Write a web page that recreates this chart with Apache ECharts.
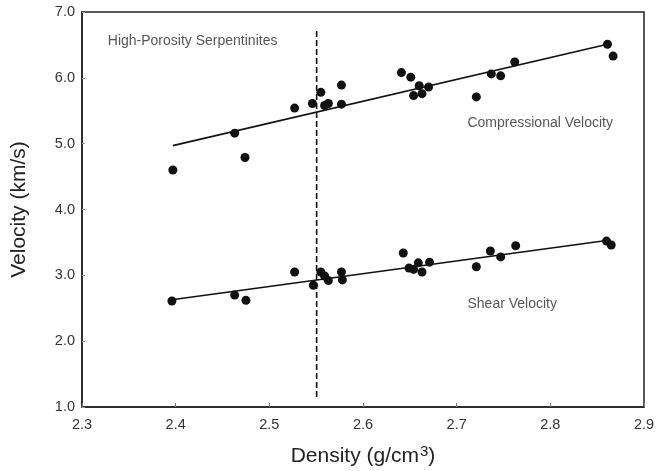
<!DOCTYPE html>
<html lang="en">
<head>
    <meta charset="UTF-8">
    <title>Velocity vs Density</title>
    <script src="https://cdn.jsdelivr.net/npm/echarts@6/dist/echarts.min.js"></script>
</head>
<body style="margin:0;background:#fff">
<div id="main" style="width:666px;height:471px"></div>
<script>
// compressional velocity samples [density, km/s]
var compData = [
    [2.397, 4.60], [2.463, 5.16], [2.474, 4.79], [2.527, 5.54], [2.546, 5.61],
    [2.555, 5.78], [2.559, 5.58], [2.563, 5.61], [2.577, 5.89], [2.577, 5.60],
    [2.641, 6.08], [2.651, 6.01], [2.654, 5.73], [2.660, 5.88], [2.663, 5.76],
    [2.670, 5.86], [2.721, 5.71], [2.737, 6.06], [2.747, 6.03], [2.762, 6.24],
    [2.861, 6.51], [2.867, 6.33]
];
// shear velocity samples
var shearData = [
    [2.396, 2.61], [2.463, 2.70], [2.475, 2.62], [2.527, 3.05], [2.547, 2.85],
    [2.555, 3.05], [2.559, 2.99], [2.563, 2.92], [2.577, 3.05], [2.578, 2.93],
    [2.643, 3.34], [2.649, 3.11], [2.654, 3.09], [2.659, 3.19], [2.663, 3.05],
    [2.671, 3.20], [2.721, 3.13], [2.736, 3.37], [2.747, 3.28], [2.763, 3.45],
    [2.860, 3.52], [2.865, 3.46]
];
// regression lines (end points)
var compFit = [[2.397, 4.97], [2.861, 6.51]];
var shearFit = [[2.396, 2.63], [2.860, 3.53]];
// high porosity cutoff
var cutoffLine = [[2.5505, 6.71], [2.5505, 1.13]];
// text notes
var notes = [
    {value: [2.327, 6.56], text: 'High-Porosity Serpentinites'},
    {value: [2.711, 5.31], text: 'Compressional Velocity'},
    {value: [2.711, 2.56], text: 'Shear Velocity'}
];

var chart = echarts.init(document.getElementById('main'));
var font = 'Liberation Sans, Arial, sans-serif';

var option = {
    animation: false,
    grid: {
        left: 82, right: 22, top: 12, bottom: 64,
        outerBoundsMode: 'none',
        show: true, borderColor: '#222', borderWidth: 1.5, backgroundColor: 'transparent'
    },
    xAxis: {
        type: 'value', min: 2.3, max: 2.9, interval: 0.1,
        name: 'Density (g/cm{sup|3})',
        nameLocation: 'middle', nameGap: 37,
        nameTextStyle: {
            fontFamily: font, fontSize: 21, color: '#222',
            rich: {sup: {fontFamily: font, fontSize: 15, color: '#222', padding: [0, 0, 10, 1]}}
        },
        axisLine: {show: true, onZero: false, lineStyle: {color: '#222', width: 1.5}},
        axisTick: {show: true, inside: true, length: 4, lineStyle: {color: '#777'}},
        axisLabel: {
            fontFamily: font, fontSize: 14.5, color: '#333', margin: 10,
            formatter: function (v) { return v.toFixed(1); }
        },
        splitLine: {show: false}
    },
    yAxis: {
        type: 'value', min: 1, max: 7, interval: 1,
        name: 'Velocity (km/s)',
        nameLocation: 'middle', nameGap: 52,
        nameTextStyle: {fontFamily: font, fontSize: 21, color: '#222'},
        axisLine: {show: true, onZero: false, lineStyle: {color: '#222', width: 1.5}},
        axisTick: {show: true, inside: true, length: 3, lineStyle: {color: '#999'}},
        axisLabel: {
            fontFamily: font, fontSize: 14.5, color: '#333', margin: 7,
            formatter: function (v) { return v.toFixed(1); }
        },
        splitLine: {show: false}
    },
    series: [
        {
            type: 'line', data: compFit, symbol: 'none',
            lineStyle: {color: '#111', width: 1.6}, z: 2
        },
        {
            type: 'line', data: shearFit, symbol: 'none',
            lineStyle: {color: '#111', width: 1.6}, z: 2
        },
        {
            type: 'line', data: cutoffLine, symbol: 'none',
            lineStyle: {color: '#111', width: 1.6, type: [6, 3]}, z: 2
        },
        {
            type: 'scatter', data: compData, symbolSize: 9,
            itemStyle: {color: '#111', opacity: 1}, z: 3
        },
        {
            type: 'scatter', data: shearData, symbolSize: 9,
            itemStyle: {color: '#111', opacity: 1}, z: 3
        },
        {
            type: 'scatter', symbolSize: 1, itemStyle: {color: 'transparent'},
            data: notes.map(function (n) { return {value: n.value, name: n.text}; }),
            label: {
                show: true, position: 'right', distance: 0,
                formatter: '{b}', fontFamily: font, fontSize: 14, color: '#2a2a2a'
            },
            silent: true
        }
    ]
};
chart.setOption(option);
</script>
</body>
</html>
